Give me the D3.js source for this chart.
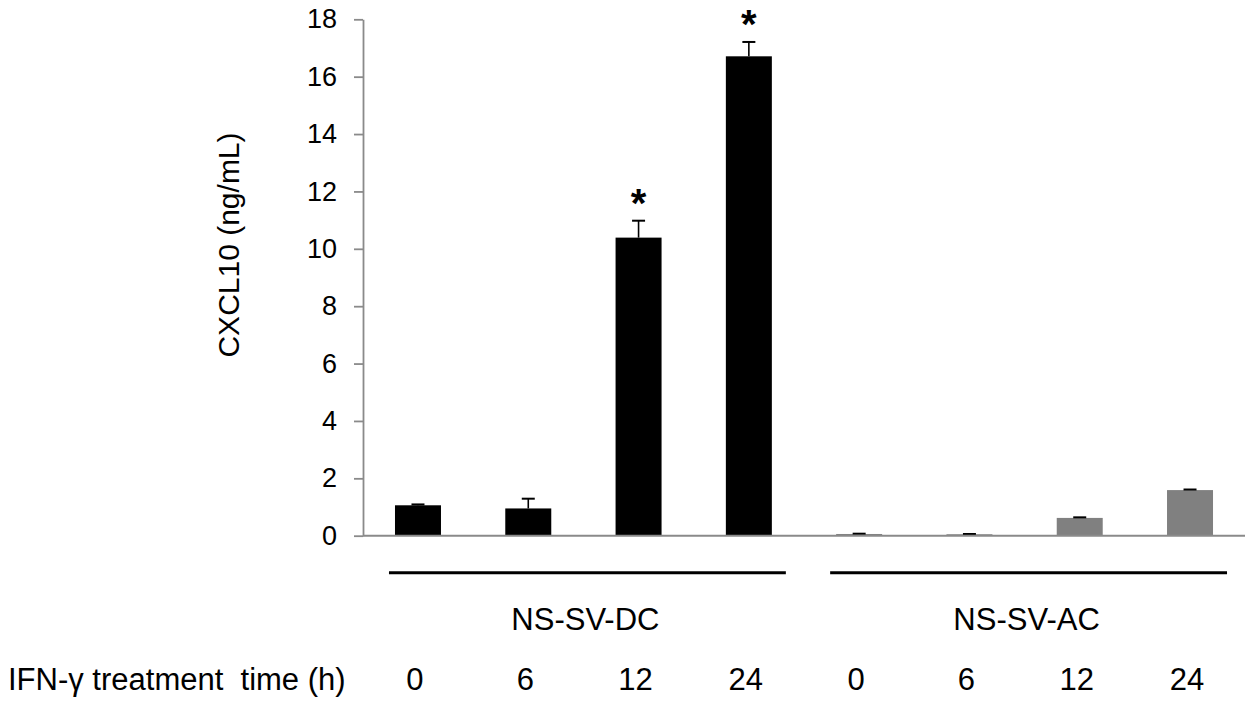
<!DOCTYPE html>
<html>
<head>
<meta charset="utf-8">
<script src="https://cdn.jsdelivr.net/npm/d3@7"></script>
<style>
	html, body { margin: 0; padding: 0; background: #fff; }
	svg { display: block; }
</style>
</head>
<body>
<div class="chart"></div>
<script>
const width = 1249,
	height = 704

// data
const groups = ['NS-SV-DC', 'NS-SV-AC']
const times = ['0', '6', '12', '24']
const dcValues = [1.06, 0.95, 10.39, 16.71]
const dcErrors = [0.03, 0.34, 0.59, 0.5]
const acValues = [0.06, 0.05, 0.62, 1.59]
const acErrors = [0.01, 0.01, 0.02, 0.02]
const dcStars = [false, false, true, true]
const acStars = [false, false, false, false]
const yTicks = [0, 2, 4, 6, 8, 10, 12, 14, 16, 18]
const rowLabel = 'IFN-γ treatment  time (h)'
const yTitle = 'CXCL10 (ng/mL)'

const colors = { 'NS-SV-DC': '#000000', 'NS-SV-AC': '#808080' }

const bars = []
groups.forEach((g, gi) => {
	const vals = gi === 0 ? dcValues : acValues
	const errs = gi === 0 ? dcErrors : acErrors
	const stars = gi === 0 ? dcStars : acStars
	times.forEach((t, i) => {
		bars.push({ key: g + '|' + t, group: g, time: t, value: vals[i], err: errs[i], star: stars[i] })
	})
})

const margin = { top: 19.3, left: 363, right: 4, bottom: 168.3 }
const innerW = width - margin.left - margin.right
const innerH = height - margin.top - margin.bottom

const font = '"Liberation Sans", Arial, sans-serif'

const svg = d3.select('.chart')
	.append('svg')
	.attr('width', width)
	.attr('height', height)
	.style('font-family', font)

const g = svg.append('g').attr('transform', `translate(${margin.left},${margin.top})`)

const x = d3.scaleBand()
	.domain(bars.map(d => d.key))
	.range([0, innerW])
	.paddingInner(0.583)
	.paddingOuter(0.29)

const y = d3.scaleLinear().domain([0, 18]).range([innerH, 0])

// y axis
const yAxis = g.append('g')
	.call(d3.axisLeft(y).tickValues(yTicks).tickSize(9).tickSizeOuter(0).tickPadding(17))
yAxis.select('.domain').attr('stroke', '#8a8a8a').attr('stroke-width', 1.8)
yAxis.selectAll('.tick line').attr('stroke', '#8a8a8a').attr('stroke-width', 1.8)
yAxis.selectAll('.tick text')
	.style('font-size', '27px')
	.style('font-family', font)
	.attr('fill', '#000')

// bars
g.selectAll('rect.bar')
	.data(bars)
	.enter()
	.append('rect')
	.attr('class', 'bar')
	.attr('x', d => x(d.key))
	.attr('width', x.bandwidth())
	.attr('y', d => y(d.value))
	.attr('height', d => y(0) - y(d.value))
	.attr('fill', d => colors[d.group])

// error bars
const eb = g.selectAll('g.err')
	.data(bars)
	.enter()
	.append('g')
	.attr('class', 'err')
eb.append('line')
	.attr('x1', d => x(d.key) + x.bandwidth() / 2)
	.attr('x2', d => x(d.key) + x.bandwidth() / 2)
	.attr('y1', d => y(d.value))
	.attr('y2', d => y(d.value + d.err))
	.attr('stroke', '#000')
	.attr('stroke-width', 1.6)
eb.append('line')
	.attr('x1', d => x(d.key) + x.bandwidth() / 2 - 6.5)
	.attr('x2', d => x(d.key) + x.bandwidth() / 2 + 6.5)
	.attr('y1', d => y(d.value + d.err))
	.attr('y2', d => y(d.value + d.err))
	.attr('stroke', '#000')
	.attr('stroke-width', 2)

// significance stars
g.selectAll('text.star')
	.data(bars.filter(d => d.star))
	.enter()
	.append('text')
	.attr('class', 'star')
	.attr('x', d => x(d.key) + x.bandwidth() / 2)
	.attr('y', d => y(d.value + d.err) - 4)
	.attr('text-anchor', 'middle')
	.style('font-size', '40px')
	.style('font-weight', 'bold')
	.text('*')

// x baseline
g.append('line')
	.attr('x1', 0)
	.attr('x2', innerW)
	.attr('y1', y(0))
	.attr('y2', y(0))
	.attr('stroke', '#8a8a8a')
	.attr('stroke-width', 2)

// group brackets and labels
groups.forEach(grp => {
	const keys = times.map(t => grp + '|' + t)
	const c0 = x(keys[0]) + x.bandwidth() / 2
	const c1 = x(keys[keys.length - 1]) + x.bandwidth() / 2
	g.append('line')
		.attr('x1', c0 - 29)
		.attr('x2', c1 + 37)
		.attr('y1', innerH + 37)
		.attr('y2', innerH + 37)
		.attr('stroke', '#000')
		.attr('stroke-width', 3)
	g.append('text')
		.attr('x', (c0 + c1) / 2 + 2)
		.attr('y', innerH + 94)
		.attr('text-anchor', 'middle')
		.style('font-size', '31px')
		.text(grp)
})

// time labels row
g.selectAll('text.time')
	.data(bars)
	.enter()
	.append('text')
	.attr('class', 'time')
	.attr('x', d => x(d.key) + x.bandwidth() / 2 - 3)
	.attr('y', innerH + 154)
	.attr('text-anchor', 'middle')
	.style('font-size', '31px')
	.text(d => d.time)

svg.append('text')
	.attr('x', 8)
	.attr('y', margin.top + innerH + 154)
	.style('font-size', '31px')
	.style('white-space', 'pre')
	.text(rowLabel)

// y axis title
svg.append('text')
	.attr('transform', `translate(239,245) rotate(-90)`)
	.attr('text-anchor', 'middle')
	.style('font-size', '30px')
	.text(yTitle)
</script>
</body>
</html>
